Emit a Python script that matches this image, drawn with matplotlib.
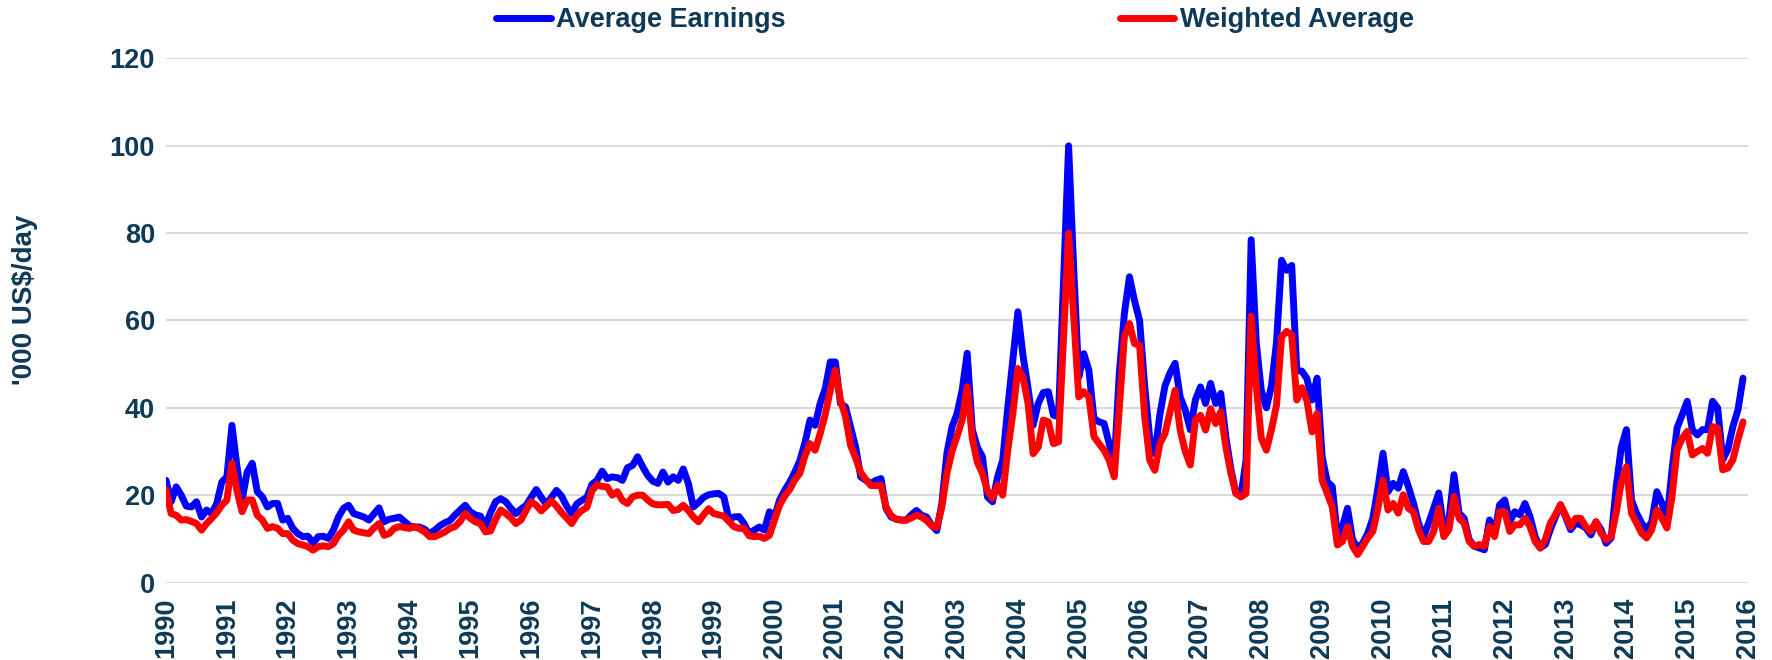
import numpy as np
import matplotlib
matplotlib.use('Agg')
import matplotlib.pyplot as plt

## data : monthly values Jan 1990 -> Dec 2015, '000 US$/day (one row = one year)
avg_earnings = [
    23.4, 18.5, 21.9, 20.0, 17.5, 17.3, 18.5, 15.0, 16.6, 15.8, 18.1, 23.0,   # 1990
    24.2, 36.0, 26.5, 18.9, 25.3, 27.3, 20.8, 19.6, 17.3, 18.1, 18.1, 14.3,   # 1991
    14.7, 12.4, 11.2, 10.5, 10.6, 9.0, 10.5, 10.6, 10.1, 12.0, 15.0, 17.0,    # 1992
    17.7, 15.8, 15.4, 15.0, 14.3, 15.7, 17.1, 13.9, 14.5, 14.7, 15.0, 14.0,   # 1993
    13.0, 12.7, 12.7, 12.2, 11.2, 12.0, 13.0, 13.7, 14.2, 15.5, 16.6, 17.7,   # 1994
    16.2, 15.5, 15.2, 13.0, 16.0, 18.5, 19.2, 18.5, 17.0, 15.8, 16.8, 17.7,   # 1995
    19.5, 21.3, 19.5, 17.9, 19.5, 21.1, 19.8, 17.5, 15.8, 18.0, 18.8, 19.5,   # 1996
    22.5, 23.4, 25.5, 23.8, 24.2, 24.0, 23.4, 26.3, 26.8, 28.8, 26.5, 24.5,   # 1997
    23.2, 22.7, 25.3, 23.0, 24.2, 23.4, 26.0, 22.7, 17.3, 18.3, 19.5, 20.1,   # 1998
    20.3, 20.4, 19.6, 14.5, 15.0, 15.1, 13.5, 11.2, 12.0, 12.7, 12.0, 16.2,   # 1999
    15.0, 18.9, 21.1, 23.0, 25.3, 27.9, 32.0, 37.2, 36.0, 41.0, 44.4, 50.5,   # 2000
    50.5, 41.0, 40.2, 35.6, 31.0, 24.2, 23.4, 22.7, 23.4, 23.8, 16.9, 15.0,   # 2001
    14.5, 14.3, 14.3, 15.5, 16.5, 15.4, 15.0, 13.1, 11.9, 18.1, 29.6, 35.6,   # 2002
    38.7, 44.0, 52.5, 35.0, 31.0, 28.8, 19.6, 18.5, 24.2, 28.0, 40.0, 51.0,   # 2003
    62.0, 52.0, 44.5, 36.0, 41.0, 43.5, 43.7, 38.3, 38.0, 69.0, 100.0, 72.0,  # 2004
    47.0, 52.4, 48.6, 37.5, 36.8, 36.4, 31.8, 27.0, 48.0, 61.6, 70.0, 64.5,   # 2005
    60.0, 45.0, 33.0, 29.5, 38.5, 45.0, 48.0, 50.2, 42.5, 39.5, 35.0, 41.8,   # 2006
    44.8, 41.0, 45.6, 41.0, 43.3, 33.4, 26.0, 20.4, 20.0, 28.0, 78.5, 55.0,   # 2007
    44.0, 40.0, 45.0, 55.0, 73.8, 71.5, 72.6, 48.6, 48.4, 46.7, 41.8, 46.8,   # 2008
    28.8, 23.1, 22.0, 10.5, 12.8, 17.0, 9.8, 7.9, 9.0, 11.3, 14.7, 21.6,      # 2009
    29.6, 20.8, 22.7, 21.6, 25.4, 22.0, 18.2, 13.6, 10.5, 13.6, 17.0, 20.5,   # 2010
    12.1, 14.3, 24.7, 15.9, 14.7, 9.8, 8.3, 7.9, 7.5, 14.3, 11.3, 17.8,       # 2011
    18.9, 13.9, 16.2, 15.5, 18.1, 15.1, 10.5, 7.9, 8.7, 12.1, 15.0, 17.8,     # 2012
    15.1, 12.1, 13.6, 13.2, 12.5, 10.9, 13.9, 12.1, 9.0, 10.2, 22.0, 31.0,    # 2013
    35.0, 18.9, 15.9, 13.6, 12.1, 13.9, 20.8, 18.2, 14.3, 25.8, 35.4, 38.4,   # 2014
    41.5, 35.0, 33.8, 35.0, 35.0, 41.5, 40.0, 28.1, 30.4, 35.7, 39.5, 46.8,   # 2015
]
weighted_avg = [
    21.2, 15.8, 15.4, 14.3, 14.4, 14.0, 13.5, 12.0, 13.5, 14.7, 16.0, 17.7,   # 1990
    18.9, 27.3, 21.0, 16.2, 18.9, 18.9, 15.4, 14.3, 12.4, 12.8, 12.4, 11.2,   # 1991
    11.2, 9.7, 8.9, 8.6, 8.2, 7.4, 8.2, 8.4, 8.2, 8.9, 10.8, 12.0,            # 1992
    13.9, 12.0, 11.6, 11.4, 11.2, 12.5, 13.5, 10.8, 11.2, 12.4, 12.8, 12.6,   # 1993
    12.4, 12.8, 12.3, 11.6, 10.5, 10.5, 11.0, 11.6, 12.4, 12.8, 14.0, 15.8,   # 1994
    14.7, 13.9, 13.5, 11.6, 11.8, 14.5, 16.6, 15.8, 14.8, 13.5, 14.3, 16.5,   # 1995
    18.5, 17.7, 16.4, 17.5, 18.7, 17.5, 16.0, 14.8, 13.5, 15.4, 16.5, 17.2,   # 1996
    21.0, 22.4, 22.0, 21.9, 20.0, 20.8, 18.8, 18.1, 19.6, 20.0, 20.0, 18.9,   # 1997
    18.0, 17.8, 17.8, 17.9, 16.5, 16.7, 17.7, 16.5, 15.0, 13.9, 15.5, 16.9,   # 1998
    15.8, 15.5, 15.2, 14.0, 12.8, 12.4, 12.4, 10.7, 10.5, 10.6, 10.1, 10.8,   # 1999
    14.3, 17.7, 19.8, 21.3, 23.5, 25.0, 29.0, 31.8, 30.3, 34.1, 38.5, 44.0,   # 2000
    48.6, 41.8, 38.0, 31.4, 28.5, 25.2, 23.6, 22.2, 22.2, 22.3, 17.3, 15.3,   # 2001
    14.5, 14.3, 14.3, 14.8, 15.4, 15.0, 14.2, 13.0, 12.6, 17.3, 25.0, 30.0,   # 2002
    33.5, 37.2, 44.8, 33.0, 27.5, 25.0, 21.0, 19.3, 22.3, 20.0, 30.3, 38.7,   # 2003
    49.0, 47.0, 41.0, 29.5, 31.0, 37.2, 36.8, 31.8, 32.2, 56.0, 80.0, 61.0,   # 2004
    42.5, 43.7, 42.5, 33.4, 31.8, 30.3, 28.0, 24.2, 40.0, 56.3, 59.3, 54.7,   # 2005
    54.3, 38.0, 28.0, 25.7, 31.8, 34.1, 39.0, 44.0, 34.9, 30.0, 26.9, 37.2,   # 2006
    38.3, 34.9, 39.8, 36.4, 39.1, 31.1, 25.0, 20.4, 19.6, 20.4, 61.0, 45.0,   # 2007
    33.0, 30.3, 35.0, 40.6, 56.3, 57.5, 56.7, 41.8, 44.6, 41.6, 34.5, 38.7,   # 2008
    23.4, 20.4, 17.3, 8.6, 9.4, 12.8, 8.3, 6.4, 8.3, 10.2, 11.7, 17.0,        # 2009
    23.4, 16.6, 18.1, 15.9, 20.1, 17.0, 16.2, 12.1, 9.4, 9.4, 11.7, 17.0,     # 2010
    10.5, 12.1, 19.7, 14.7, 13.6, 9.4, 8.3, 8.7, 8.3, 12.8, 10.5, 16.2,       # 2011
    16.2, 11.7, 13.2, 13.2, 14.7, 12.8, 9.4, 7.9, 9.8, 13.6, 15.5, 17.8,      # 2012
    15.5, 12.8, 14.7, 14.7, 12.8, 11.7, 13.9, 11.3, 9.8, 10.5, 16.0, 23.0,    # 2013
    26.5, 15.9, 13.6, 11.3, 10.2, 12.1, 16.6, 14.7, 12.5, 19.7, 30.4, 33.0,   # 2014
    34.6, 29.2, 30.0, 30.7, 29.6, 35.7, 35.4, 25.8, 26.2, 28.1, 32.7, 36.8,   # 2015
]
years = list(range(1990, 2017))
y_ticks = [0, 20, 40, 60, 80, 100, 120]

## style
navy = '#0f3a57'
plt.rcParams['font.family'] = ['Liberation Sans', 'DejaVu Sans']
plt.rcParams['font.weight'] = 'bold'

x = 1990 + np.arange(len(avg_earnings)) / 12

fig = plt.figure(figsize=(17.72, 6.6), dpi=100)
ax = fig.add_axes([0.0937, 0.1174, 0.8928, 0.7940])

ax.plot(x, avg_earnings, color='#0000ff', lw=5, solid_joinstyle='round',
        solid_capstyle='round', label='Average Earnings')
ax.plot(x, weighted_avg, color='#ff0000', lw=5, solid_joinstyle='round',
        solid_capstyle='round', label='Weighted Average')

ax.set_xlim(1990, 2016)
ax.set_ylim(0, 120)
ax.set_yticks(y_ticks)
ax.set_xticks(years)
ax.set_xticklabels([str(y) for y in years], rotation=90)
ax.tick_params(length=0, labelsize=19.5, labelcolor=navy)
ax.tick_params(axis='x', pad=11)
ax.tick_params(axis='y', pad=8)

ax.grid(axis='y', color='#d9d9d9', lw=1.4)
ax.set_axisbelow(True)
for s in ax.spines.values():
    s.set_visible(False)

fig.text(25 / 1772, 1 - 300 / 660, "'000 US$/day", rotation=90, ha='center',
         va='center', fontsize=20, color=navy, weight='bold')

fig.legend(loc='center', bbox_to_anchor=(955 / 1772, 1 - 20 / 660), ncol=2,
           frameon=False, handlelength=2.0, handletextpad=0.2,
           columnspacing=12.35, fontsize=19.5, borderpad=0, labelcolor=navy)

fig.savefig('out.png', dpi=100)
